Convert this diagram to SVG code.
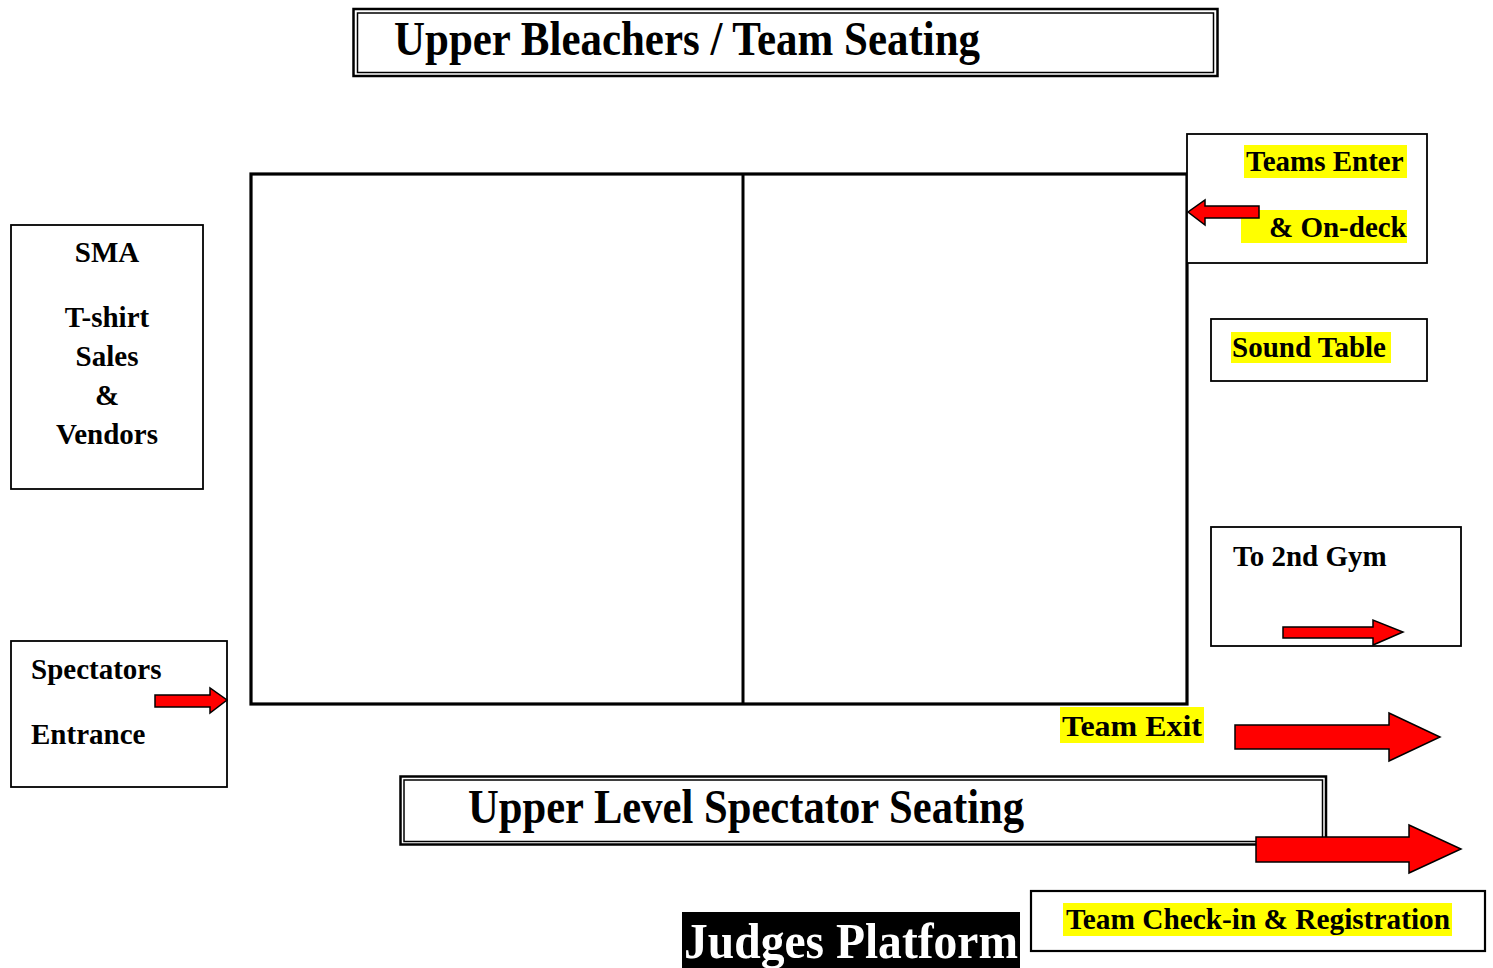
<svg xmlns="http://www.w3.org/2000/svg" width="1493" height="968" viewBox="0 0 1493 968">
<style>
text{font-family:"Liberation Serif","Times New Roman",serif;font-weight:bold;fill:#000}
.t{font-size:29px}
.big{font-size:48px}
.box{fill:#fff;stroke:#000;stroke-width:1.8}
.hl{fill:#ffff00}
.arr{fill:#ff0000;stroke:#000;stroke-width:1.5;stroke-linejoin:miter}
.dbl1{fill:none;stroke:#000;stroke-width:2.5}
.dbl2{fill:none;stroke:#000;stroke-width:1.5}
</style>
<rect width="1493" height="968" fill="#fff"/>

<g id="upper-bleachers">
<rect class="dbl1" x="353.5" y="9" width="864" height="67"/>
<rect class="dbl2" x="357.5" y="13" width="856" height="59.5"/>
<text class="big" x="394" y="55" textLength="586" lengthAdjust="spacingAndGlyphs">Upper Bleachers / Team Seating</text>
</g>

<g id="court">
<rect x="251" y="174" width="936" height="530" fill="none" stroke="#000" stroke-width="3.2"/>
<line x1="743" y1="174" x2="743" y2="704" stroke="#000" stroke-width="3"/>
</g>

<g id="sma">
<rect class="box" x="11" y="225" width="192" height="264"/>
<text class="t" x="107" y="262" text-anchor="middle">SMA</text>
<text class="t" x="107" y="327" text-anchor="middle">T-shirt</text>
<text class="t" x="107" y="366" text-anchor="middle">Sales</text>
<text class="t" x="107" y="405" text-anchor="middle">&amp;</text>
<text class="t" x="107" y="444" text-anchor="middle">Vendors</text>
</g>

<g id="spectators-entrance">
<rect class="box" x="11" y="641" width="216" height="146"/>
<text class="t" x="31" y="679">Spectators</text>
<text class="t" x="31" y="744">Entrance</text>
</g>

<g id="teams-enter">
<rect class="box" x="1187" y="134" width="240" height="129"/>
<rect class="hl" x="1244" y="145" width="163" height="33"/>
<rect class="hl" x="1241" y="210" width="166" height="33"/>
<text class="t" x="1246" y="171">Teams Enter</text>
<text class="t" x="1269" y="237">&amp; On-deck</text>
</g>

<g id="sound-table">
<rect class="box" x="1211" y="319" width="216" height="62"/>
<rect class="hl" x="1231" y="332" width="160" height="31"/>
<text class="t" x="1232" y="357">Sound Table</text>
</g>

<g id="to-2nd-gym">
<rect class="box" x="1211" y="527" width="250" height="119"/>
<text class="t" x="1233" y="566">To 2nd Gym</text>
</g>

<g id="team-exit">
<rect class="hl" x="1060" y="707" width="144" height="36"/>
<text class="t" x="1062" y="736" style="font-size:30px" textLength="140" lengthAdjust="spacingAndGlyphs">Team Exit</text>
</g>

<g id="upper-level-seating">
<rect class="dbl1" x="400.5" y="776.5" width="925.5" height="68"/>
<rect class="dbl2" x="404" y="780" width="918.5" height="61.5"/>
<text class="big" x="468" y="823" textLength="556" lengthAdjust="spacingAndGlyphs">Upper Level Spectator Seating</text>
</g>

<g id="team-checkin">
<rect class="box" x="1031" y="891" width="454" height="60" style="stroke-width:2.2"/>
<rect class="hl" x="1063" y="903" width="389" height="33"/>
<text class="t" x="1066" y="929" textLength="384" lengthAdjust="spacingAndGlyphs">Team Check-in &amp; Registration</text>
</g>

<g id="judges-platform">
<rect x="682" y="912" width="338" height="56" fill="#000"/>
<text x="684" y="958" style="font-size:50px;fill:#fff" textLength="334" lengthAdjust="spacingAndGlyphs">Judges Platform</text>
</g>

<g id="connectors">
<polygon class="arr" points="1259,206 1205,206 1205,200 1188,212 1205,225 1205,218 1259,218"/>
<polygon class="arr" points="1283,627 1373,627 1373,620 1403,632 1373,645 1373,638 1283,638"/>
<polygon class="arr" points="155,695 210,695 210,688 227,700 210,713 210,707 155,707"/>
<polygon class="arr" points="1235,725 1389,725 1389,713 1440,737 1389,761 1389,749 1235,749"/>
<polygon class="arr" points="1256,837 1409,837 1409,825 1461,849 1409,873 1409,862 1256,862"/>
</g>
</svg>
